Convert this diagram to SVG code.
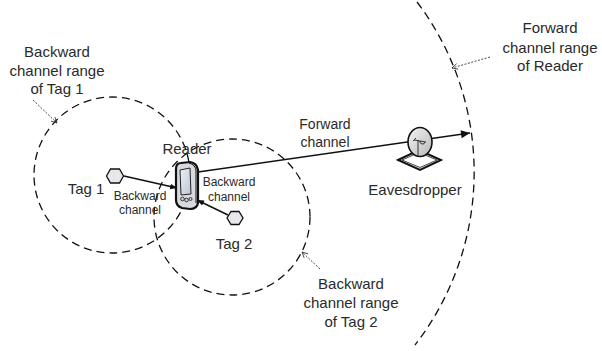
<svg xmlns="http://www.w3.org/2000/svg" width="602" height="351" viewBox="0 0 602 351">
  <style>
    text { font-family: "Liberation Sans", Arial, sans-serif; fill: #2a2a2a; text-anchor: middle; }
    .big { font-size: 15px; }
    .mid { font-size: 14px; }
    .small { font-size: 12px; }
    .range { fill: none; stroke: #111; stroke-width: 1.3; stroke-dasharray: 8 5; }
    .leader { fill: none; stroke: #333; stroke-width: 0.9; stroke-dasharray: 2 1.5; }
    .link { fill: none; stroke: #111; stroke-width: 1.5; }
    .tag { fill: #e6e8ec; stroke: #111; stroke-width: 1.3; }
  </style>
  <defs>
    <marker id="solid" viewBox="0 0 10 10" refX="10" refY="5" markerWidth="7" markerHeight="7" orient="auto" markerUnits="userSpaceOnUse">
      <path d="M0,1 L10,5 L0,9 Z" fill="#111"/>
    </marker>
    <marker id="solidBig" viewBox="0 0 10 10" refX="10" refY="5" markerWidth="12" markerHeight="9" orient="auto" markerUnits="userSpaceOnUse">
      <path d="M0,0.5 L10,5 L0,9.5 Z" fill="#111"/>
    </marker>
    <marker id="open" viewBox="0 0 10 10" refX="9" refY="5" markerWidth="7" markerHeight="7" orient="auto" markerUnits="userSpaceOnUse">
      <path d="M1,1 L9,5 L1,9" fill="none" stroke="#333" stroke-width="1.2"/>
    </marker>
    <linearGradient id="dishFill" x1="0" y1="0" x2="1" y2="1">
      <stop offset="0" stop-color="#f4f4f4"/>
      <stop offset="1" stop-color="#b8b8b8"/>
    </linearGradient>
    <linearGradient id="screenFill" x1="0" y1="0" x2="1" y2="1">
      <stop offset="0" stop-color="#eef2f8"/>
      <stop offset="1" stop-color="#b9c4d4"/>
    </linearGradient>
  </defs>

  <!-- coverage ranges -->
  <g id="ranges">
    <circle class="range" cx="112" cy="175" r="78"/>
    <circle class="range" cx="232" cy="217" r="78"/>
    <path class="range" d="M417,2 A282,282 0 0 1 415,345"/>
  </g>

  <!-- connectors -->
  <g id="connectors">
    <line class="link" x1="198" y1="172" x2="470" y2="133" marker-end="url(#solidBig)"/>
    <line class="link" x1="124" y1="176" x2="177" y2="188" marker-end="url(#solid)"/>
    <line class="link" x1="228" y1="215" x2="197" y2="200" marker-end="url(#solid)"/>
    <line class="leader" x1="33" y1="100" x2="57" y2="123" marker-end="url(#open)"/>
    <line class="leader" x1="490" y1="57" x2="452" y2="68" marker-end="url(#open)"/>
    <line class="leader" x1="320" y1="269" x2="302" y2="252" marker-end="url(#open)"/>
  </g>

  <!-- reader -->
  <g id="reader">
    <path d="M181,163 L190,162 Q197,163 198,170 L198,203 Q197,209 190,209 L182,208 Q176,206 176,200 L176,169 Q176,163 181,163 Z" fill="#d8dadd" stroke="#111" stroke-width="2.2"/>
    <path d="M189,163 Q196,165 196,171 L196,203" fill="none" stroke="#111" stroke-width="1"/>
    <path d="M180,170 L190,168 L191,194 L181,195 Z" fill="url(#screenFill)" stroke="#222" stroke-width="1"/>
    <circle cx="182.5" cy="199" r="1.8" fill="none" stroke="#222" stroke-width="0.9"/>
    <circle cx="186.5" cy="200" r="1.8" fill="none" stroke="#222" stroke-width="0.9"/>
    <circle cx="190.5" cy="199" r="1.5" fill="none" stroke="#222" stroke-width="0.9"/>
    <text class="big" x="187" y="154">Reader</text>
  </g>

  <!-- tag 1 -->
  <g id="tag1">
    <polygon class="tag" points="106.5,176 110.5,169 119.5,169 123.5,176 119.5,183 110.5,183"/>
    <text class="big" x="86" y="194">Tag 1</text>
  </g>

  <!-- tag 2 -->
  <g id="tag2">
    <polygon class="tag" points="227,218 231,211.5 239,211.5 243,218 239,224.5 231,224.5"/>
    <text class="big" x="234" y="249">Tag 2</text>
  </g>

  <!-- eavesdropper -->
  <g id="eavesdropper">
    <polygon points="398,160 419,150 441,160 420,170" fill="#fff" stroke="#111" stroke-width="2"/>
    <polygon points="402,160 419,152.5 437,160 420,167.5" fill="none" stroke="#111" stroke-width="0.8"/>
    <ellipse cx="420" cy="142" rx="12" ry="14.5" fill="url(#dishFill)" stroke="#111" stroke-width="1.6"/>
    <path d="M414,140 L426,142 M418,140 L418,156 M420,141 a2.5,2.5 0 1 0 5,1 M413,141 L416,138" fill="none" stroke="#222" stroke-width="0.9"/>
    <text class="big" x="415" y="195">Eavesdropper</text>
  </g>

  <!-- channel labels -->
  <g id="labels">
    <text class="mid" x="325" y="129">Forward</text>
    <text class="mid" x="325" y="147">channel</text>
    <text class="small" x="140" y="200">Backward</text>
    <text class="small" x="140" y="214">channel</text>
    <text class="small" x="229" y="186">Backward</text>
    <text class="small" x="229" y="201">channel</text>

    <text class="big" x="57" y="57">Backward</text>
    <text class="big" x="57" y="76">channel range</text>
    <text class="big" x="57" y="94">of Tag 1</text>

    <text class="big" x="550" y="33">Forward</text>
    <text class="big" x="550" y="53">channel range</text>
    <text class="big" x="550" y="71">of Reader</text>

    <text class="big" x="351" y="289">Backward</text>
    <text class="big" x="351" y="308">channel range</text>
    <text class="big" x="351" y="327">of Tag 2</text>
  </g>
</svg>
